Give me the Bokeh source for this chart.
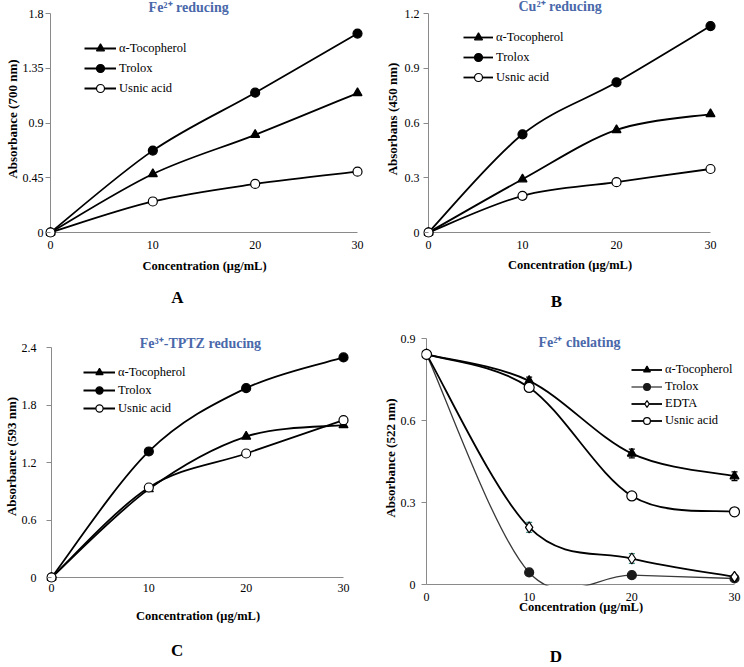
import numpy as np
from bokeh.plotting import figure
from bokeh.models import (Range1d, FixedTicker, Label, Legend, LegendItem,
                          Whisker, ColumnDataSource, TeeHead, LinearAxis)
from bokeh.layouts import column, row
from bokeh.embed import file_html
from bokeh.resources import INLINE

# ---------------- data ----------------
conc = [0, 10, 20, 30]
x_ticks = [0, 10, 20, 30]

# Panel A : Fe2+ reducing
a_toco = [0.0, 0.481, 0.803, 1.146]
a_trolox = [0.0, 0.673, 1.149, 1.635]
a_usnic = [0.0, 0.255, 0.399, 0.500]
a_yticks = [0, 0.45, 0.9, 1.35, 1.8]
a_ylabels = ["0", "0.45", "0.9", "1.35", "1.8"]

# Panel B : Cu2+ reducing
b_toco = [0.0, 0.292, 0.562, 0.649]
b_trolox = [0.0, 0.538, 0.823, 1.131]
b_usnic = [0.0, 0.201, 0.276, 0.348]
b_yticks = [0, 0.3, 0.6, 0.9, 1.2]
b_ylabels = ["0", "0.3", "0.6", "0.9", "1.2"]

# Panel C : Fe3+-TPTZ reducing
c_toco = [0.0, 0.922, 1.471, 1.590]
c_trolox = [0.0, 1.315, 1.976, 2.296]
c_usnic = [0.0, 0.939, 1.294, 1.642]
c_yticks = [0, 0.6, 1.2, 1.8, 2.4]
c_ylabels = ["0", "0.6", "1.2", "1.8", "2.4"]

# Panel D : Fe2+ chelating
d_toco = [0.842, 0.745, 0.479, 0.396]
d_toco_err = [0.0, 0.014, 0.016, 0.016]
d_trolox = [0.842, 0.044, 0.034, 0.022]
d_edta = [0.842, 0.209, 0.095, 0.028]
d_edta_err = [0.0, 0.018, 0.018, 0.0]
d_usnic = [0.842, 0.721, 0.324, 0.266]
d_yticks = [0, 0.3, 0.6, 0.9]
d_ylabels = ["0", "0.3", "0.6", "0.9"]

x_label = "Concentration (μg/mL)"

# ---------------- style ----------------
SERIF = "Liberation Serif"
TITLE_COLOR = "#4A68AA"
AXIS_COLOR = "#8a8a8a"
TEAL = "#3E8E86"
PL, PR = 5, 6


def bez_ctrl(xs, ys):
    x = np.asarray(xs, float)
    y = np.asarray(ys, float)
    xp = np.r_[x[0], x, x[-1]]
    yp = np.r_[y[0], y, y[-1]]
    i = np.arange(len(x) - 1)
    return dict(
        x0=x[:-1], y0=y[:-1], x1=x[1:], y1=y[1:],
        cx0=x[i] + (xp[i + 2] - xp[i]) / 6.0,
        cy0=y[i] + (yp[i + 2] - yp[i]) / 6.0,
        cx1=x[i + 1] - (xp[i + 3] - xp[i + 1]) / 6.0,
        cy1=y[i + 1] - (yp[i + 3] - yp[i + 1]) / 6.0,
    )


def make_panel(yticks, ylabels, ylabel, dw, dh, pt, pb, left, right, bottom,
               y_std, y_lab_std, x_std, x_lab_std, letter, letter_x, letter_std):
    xmax = x_ticks[-1]
    ymax = yticks[-1]
    p = figure(frame_width=dw + PL + PR, frame_height=dh + pt + pb,
               x_range=Range1d(-PL * xmax / dw, xmax + PR * xmax / dw),
               y_range=Range1d(-pb * ymax / dh, ymax + pt * ymax / dh),
               output_backend="svg", toolbar_location=None,
               min_border_left=left, min_border_right=right,
               min_border_top=0, min_border_bottom=bottom)
    p.outline_line_color = None
    p.grid.visible = False
    p.background_fill_color = "white"
    p.border_fill_color = "white"

    # axis lines at the data origin
    p.segment(x0=[x_ticks[0], x_ticks[0]], y0=[yticks[0], yticks[0]],
              x1=[x_ticks[0], x_ticks[-1]], y1=[ymax, yticks[0]],
              line_color=AXIS_COLOR, line_width=1)

    xa = p.xaxis[0]
    xa.bounds = (x_ticks[0], xmax)
    xa.ticker = FixedTicker(ticks=x_ticks)
    xa.major_tick_out = 0
    xa.major_tick_in = 0
    xa.minor_tick_out = 0
    xa.minor_tick_in = 0
    xa.axis_line_color = None
    xa.major_label_text_font = SERIF
    xa.major_label_text_font_size = "12px"
    xa.major_label_text_color = "black"
    xa.major_label_standoff = x_std
    xa.axis_label = x_label
    xa.axis_label_text_font = SERIF
    xa.axis_label_text_font_style = "bold"
    xa.axis_label_text_font_size = "12.5px"
    xa.axis_label_text_color = "black"
    xa.axis_label_standoff = x_lab_std

    ya = p.yaxis[0]
    ya.bounds = (yticks[0], ymax)
    ya.ticker = FixedTicker(ticks=yticks)
    ya.major_label_overrides = dict(zip(yticks, ylabels))
    ya.major_tick_out = 0
    ya.major_tick_in = PL
    ya.minor_tick_out = 0
    ya.minor_tick_in = 0
    ya.major_tick_line_color = AXIS_COLOR
    ya.axis_line_color = None
    ya.major_label_text_font = SERIF
    ya.major_label_text_font_size = "12px"
    ya.major_label_text_color = "black"
    ya.major_label_standoff = y_std
    ya.axis_label = ylabel
    ya.axis_label_text_font = SERIF
    ya.axis_label_text_font_style = "bold"
    ya.axis_label_text_font_size = "13px"
    ya.axis_label_text_color = "black"
    ya.axis_label_standoff = y_lab_std

    # panel letter (A, B, C, D) placed below the axis title
    la = LinearAxis(ticker=FixedTicker(ticks=[letter_x]),
                    major_label_overrides={letter_x: letter},
                    axis_line_color=None, major_tick_out=0, major_tick_in=0,
                    minor_tick_out=0, minor_tick_in=0,
                    major_label_standoff=letter_std,
                    major_label_text_font=SERIF, major_label_text_font_style="bold",
                    major_label_text_font_size="17px", major_label_text_color="black")
    p.add_layout(la, "below")
    return p


def add_line(p, ys, line_color="black", line_width=1.8):
    return p.bezier(line_color=line_color, line_width=line_width, **bez_ctrl(conc, ys))


def add_markers(p, ys, marker, fill, size=9, marker_color="black", lw=1.2):
    return p.scatter(conc, ys, marker=marker, size=size, fill_color=fill,
                     line_color=marker_color, line_width=lw)


def add_errors(p, ys, errs, color):
    src = ColumnDataSource(dict(x=conc,
                                upper=[v + e for v, e in zip(ys, errs)],
                                lower=[v - e for v, e in zip(ys, errs)]))
    p.add_layout(Whisker(source=src, base="x", upper="upper", lower="lower",
                         line_color=color, line_width=1.2,
                         upper_head=TeeHead(size=6, line_color=color, line_width=1.2),
                         lower_head=TeeHead(size=6, line_color=color, line_width=1.2)))


def add_title(p, text, x, ymax, yoff):
    p.add_layout(Label(x=x, y=ymax, y_offset=yoff, text=text, text_align="center",
                       text_baseline="middle", text_font=SERIF, text_font_style="bold",
                       text_font_size="14px", text_color=TITLE_COLOR))


def add_legend(p, items, loc, gw, gh):
    lg = Legend(items=items, location=loc, glyph_width=gw, glyph_height=gh,
                label_height=gh, label_width=20, spacing=0, padding=0, margin=0,
                label_standoff=3, border_line_color=None, background_fill_alpha=0,
                label_text_font=SERIF, label_text_font_size="12.5px",
                label_text_color="black")
    p.add_layout(lg)


def three_series(p, toco, trolox, usnic):
    l1 = add_line(p, toco)
    l2 = add_line(p, trolox)
    l3 = add_line(p, usnic)
    m1 = add_markers(p, toco, "triangle", "black", size=9)
    m2 = add_markers(p, trolox, "circle", "black", size=9)
    m3 = add_markers(p, usnic, "circle", "white", size=9)
    return [LegendItem(label="α-Tocopherol", renderers=[l1, m1]),
            LegendItem(label="Trolox", renderers=[l2, m2]),
            LegendItem(label="Usnic acid", renderers=[l3, m3])]


# ---------------- Panel A ----------------
pa = make_panel(a_yticks, a_ylabels, "Absorbance (700 nm)", 307, 219, 13, 5,
                45, 9, 93, 2, 0, 3, 7, "A", 12.4, 12)
items = three_series(pa, a_toco, a_trolox, a_usnic)
add_legend(pa, items, (39, 139), 32, 20)
add_title(pa, "Fe²⁺ reducing", 13.5, a_yticks[-1], 6)

# ---------------- Panel B ----------------
pb = make_panel(b_yticks, b_ylabels, "Absorbans (450 nm)", 282, 219, 13, 5,
                51, 20, 93, 4, 2, 3, 6, "B", 13.6, 17)
items = three_series(pb, b_toco, b_trolox, b_usnic)
add_legend(pb, items, (40, 150), 30, 20)
add_title(pb, "Cu²⁺ reducing", 14.0, b_yticks[-1], 7)

# ---------------- Panel C ----------------
pc = make_panel(c_yticks, c_ylabels, "Absorbance (593 nm)", 292, 230, 17, 5,
                46, 23, 84, 10, 0, 1, 14, "C", 12.9, 15)
items = three_series(pc, c_toco, c_trolox, c_usnic)
add_legend(pc, items, (37, 165), 32, 18)
add_title(pc, "Fe³⁺-TPTZ reducing", 15.3, c_yticks[-1], 4)

# ---------------- Panel D ----------------
pd_ = make_panel(d_yticks, d_ylabels, "Absorbance (522 nm)", 308, 246, 8, 1,
                 49, 2, 81, 6, 0, 7, -4, "D", 12.6, 30)
add_errors(pd_, d_edta, d_edta_err, TEAL)
add_errors(pd_, d_toco, d_toco_err, "black")
l1 = add_line(pd_, d_toco)
l2 = add_line(pd_, d_trolox, line_color="#3a3a3a", line_width=1.3)
l3 = add_line(pd_, d_edta)
l4 = add_line(pd_, d_usnic)
m1 = add_markers(pd_, d_toco, "triangle", "black", size=9)
m2 = add_markers(pd_, d_trolox, "circle", "#1a1a1a", size=9, marker_color="#1a1a1a")
m3 = add_markers(pd_, d_edta, "diamond", "white", size=11)
m4 = add_markers(pd_, d_usnic, "circle", "white", size=10)
items = [LegendItem(label="α-Tocopherol", renderers=[l1, m1]),
         LegendItem(label="Trolox", renderers=[l2, m2]),
         LegendItem(label="EDTA", renderers=[l3, m3]),
         LegendItem(label="Usnic acid", renderers=[l4, m4])]
add_legend(pd_, items, (210, 156), 31, 17)
add_title(pd_, "Fe²⁺ chelating", 14.9, d_yticks[-1], -4)

layout = column(row(pa, pb), row(pc, pd_))
open("out.html", "w").write(file_html(layout, INLINE, title="Antioxidant assays"))
